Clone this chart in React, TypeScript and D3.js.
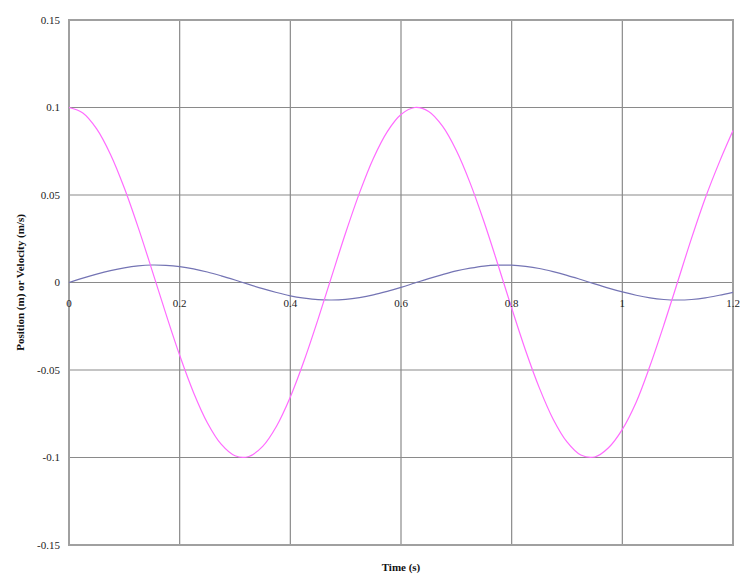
import React from 'react';
import * as d3 from 'd3';

const times = [
  0, 0.025, 0.05, 0.075, 0.1, 0.125, 0.15, 0.175, 0.2, 0.225, 0.25, 0.275,
  0.3, 0.325, 0.35, 0.375, 0.4, 0.425, 0.45, 0.475, 0.5, 0.525, 0.55, 0.575,
  0.6, 0.625, 0.65, 0.675, 0.7, 0.725, 0.75, 0.775, 0.8, 0.825, 0.85, 0.875,
  0.9, 0.925, 0.95, 0.975, 1.0, 1.025, 1.05, 1.075, 1.1, 1.125, 1.15, 1.175, 1.2,
];

const position = [
  0.1, 0.0969, 0.0878, 0.0732, 0.054, 0.0315, 0.0071, -0.0178, -0.0416, -0.0628,
  -0.0801, -0.0924, -0.099, -0.0994, -0.0936, -0.0821, -0.0654, -0.0446, -0.0211,
  0.0038, 0.0284, 0.0512, 0.0709, 0.0861, 0.096, 0.1, 0.0977, 0.0893, 0.0754,
  0.0568, 0.0347, 0.0104, -0.0146, -0.0387, -0.0602, -0.0781, -0.0911, -0.0986,
  -0.0997, -0.0944, -0.0839, -0.0684, -0.0476, -0.0243, 0.0004, 0.0252, 0.0483,
  0.0685, 0.0868,
];

const velocity = [
  0, 0.0025, 0.0048, 0.0068, 0.0084, 0.0095, 0.01, 0.0098, 0.0091, 0.0078, 0.006,
  0.0038, 0.0014, -0.0011, -0.0035, -0.0057, -0.0076, -0.0089, -0.0098, -0.01,
  -0.0096, -0.0086, -0.0071, -0.0051, -0.0028, -0.0003, 0.0022, 0.0045, 0.0066,
  0.0082, 0.0094, 0.0099, 0.0099, 0.0092, 0.008, 0.0062, 0.0041, 0.0017, -0.0008,
  -0.0032, -0.0054, -0.0073, -0.0088, -0.0097, -0.01, -0.0097, -0.0088, -0.0073,
  -0.0056,
];

const xTicks = [0, 0.2, 0.4, 0.6, 0.8, 1, 1.2];
const xTickLabels = ['0', '0.2', '0.4', '0.6', '0.8', '1', '1.2'];
const yTicks = [0.15, 0.1, 0.05, 0, -0.05, -0.1, -0.15];
const yTickLabels = ['0.15', '0.1', '0.05', '0', '-0.05', '-0.1', '-0.15'];

const W = 752;
const H = 587;
const margin = { left: 69, right: 19, top: 20, bottom: 42 };
const font = '"Liberation Serif", "Times New Roman", serif';

export default function App() {
  const x = d3.scaleLinear().domain([0, 1.2]).range([margin.left, W - margin.right]);
  const y = d3.scaleLinear().domain([-0.15, 0.15]).range([H - margin.bottom, margin.top]);

  const line = d3
    .line<number>()
    .x((_, i) => x(times[i]))
    .y((d) => y(d))
    .curve(d3.curveCatmullRom);

  return (
    <svg
      width={W}
      height={H}
      style={{ position: 'absolute', left: 0, top: 0, background: '#fff' }}
    >
      {/* grid */}
      {xTicks.map((t) => (
        <line key={'gx' + t} x1={x(t)} x2={x(t)} y1={y(0.15)} y2={y(-0.15)} stroke="#8a8a8a" strokeWidth={1.2} />
      ))}
      {yTicks.map((t) => (
        <line key={'gy' + t} x1={x(0)} x2={x(1.2)} y1={y(t)} y2={y(t)} stroke="#8a8a8a" strokeWidth={1.2} />
      ))}
      <rect
        x={x(0)}
        y={y(0.15)}
        width={x(1.2) - x(0)}
        height={y(-0.15) - y(0.15)}
        fill="none"
        stroke="#a0a0a0"
        strokeWidth={2}
      />

      {/* series */}
      <path d={line(velocity) || ''} fill="none" stroke="#7474b4" strokeWidth={1.2} />
      <path d={line(position) || ''} fill="none" stroke="#ff6bff" strokeWidth={1.2} />

      {/* y tick labels */}
      {yTicks.map((t, i) => (
        <text
          key={'yl' + t}
          x={x(0) - 9}
          y={y(t)}
          dy="0.35em"
          textAnchor="end"
          fontFamily={font}
          fontSize={11}
          fill="#222"
        >
          {yTickLabels[i]}
        </text>
      ))}

      {/* x tick labels, sitting under the zero line */}
      {xTicks.map((t, i) => (
        <text
          key={'xl' + t}
          x={x(t)}
          y={y(0) + 24}
          textAnchor="middle"
          fontFamily={font}
          fontSize={11}
          fill="#222"
        >
          {xTickLabels[i]}
        </text>
      ))}

      {/* axis titles */}
      <text
        x={(x(0) + x(1.2)) / 2}
        y={571}
        textAnchor="middle"
        fontFamily={font}
        fontSize={11}
        fontWeight="bold"
        fill="#111"
      >
        Time (s)
      </text>
      <text
        transform={`translate(24,${y(0)}) rotate(-90)`}
        textAnchor="middle"
        fontFamily={font}
        fontSize={11}
        fontWeight="bold"
        fill="#111"
      >
        Position (m) or Velocity (m/s)
      </text>
    </svg>
  );
}
